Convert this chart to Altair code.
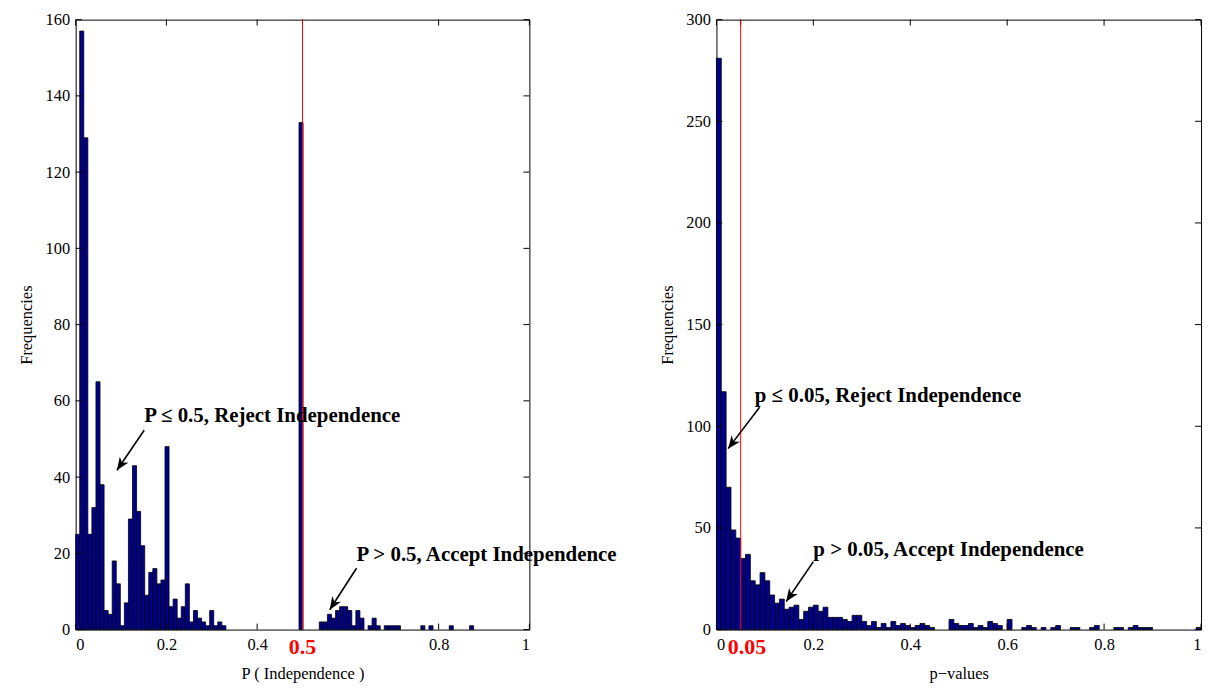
import math
import altair as alt
import pandas as pd

# ---------------- data ----------------
# Left histogram: P(Independence), 100 bins spanning [left_lo, left_hi]
left_lo, left_hi = 0.0, 0.895
left_counts = [25, 157, 129, 25, 32, 65, 38, 5, 4, 18, 12, 1, 7, 29, 43, 31, 22, 9, 15, 16,
               12, 13, 48, 6, 8, 3, 6, 12, 2, 5, 3, 2, 1, 5, 1, 2, 1,
               0, 0, 0, 0, 0, 0, 0, 0, 0, 0, 0, 0, 0, 0, 0, 0, 0, 0,
               133, 0, 0, 0, 0,
               2, 2, 4, 3, 5, 6, 6, 5, 1, 5, 3, 0, 1, 3, 1, 0, 1, 1, 1, 1,
               0, 0, 0, 0, 0, 1, 0, 1, 0, 0, 0, 0, 1, 0, 0, 0, 0, 1, 0, 0]

# Right histogram: p-values, 100 bins spanning [right_lo, right_hi]
right_lo, right_hi = 0.0, 1.0
right_counts = [281, 117, 70, 49, 45, 35, 37, 24, 22, 28, 24, 17, 13, 15, 10, 11, 12, 5, 9, 11, 12,
                9, 11, 6, 6, 6, 5, 4, 7, 7, 4, 2, 4, 1, 3, 1, 4, 2, 3, 2, 1, 2, 3, 2, 1,
                0, 0, 0,
                5, 3, 2, 2, 3, 1, 2, 1, 4, 3, 2, 0, 5,
                0, 0, 1, 2, 1, 0, 1, 0, 1, 2, 0, 0, 1, 1, 0, 0, 1, 2, 0, 0, 0, 1, 1, 0, 1, 2, 1, 1, 1,
                0, 0, 0, 0, 0, 0, 0, 0, 0, 1]

left_xlabels = [0, 0.2, 0.4, 0.8, 1]
left_xticks = [0, 0.2, 0.4, 0.5, 0.8, 1]
left_yticks = [0, 20, 40, 60, 80, 100, 120, 140, 160]
right_xlabels = [0, 0.2, 0.4, 0.6, 0.8, 1]
right_xticks = [0, 0.05, 0.2, 0.4, 0.6, 0.8, 1]
right_yticks = [0, 50, 100, 150, 200, 250, 300]

# threshold line position, red tick label and where that label is centred
left_threshold, left_threshold_text, left_threshold_label_x = 0.5, "0.5", 0.5
right_threshold, right_threshold_text, right_threshold_label_x = 0.05, "0.05", 0.063

# annotations: text anchor, arrow tail, arrow head (data units)
left_notes = [
    {"text": "P \u2264 0.5, Reject Independence", "tx": 0.151, "ty": 56.0,
     "ax": 0.151, "ay": 52.3, "hx": 0.091, "hy": 41.8},
    {"text": "P > 0.5, Accept Independence", "tx": 0.619, "ty": 19.6,
     "ax": 0.619, "ay": 16.1, "hx": 0.560, "hy": 5.2},
]
right_notes = [
    {"text": "p \u2264 0.05, Reject Independence", "tx": 0.079, "ty": 115.0,
     "ax": 0.089, "ay": 109.3, "hx": 0.024, "hy": 89.0},
    {"text": "p > 0.05, Accept Independence", "tx": 0.200, "ty": 39.2,
     "ax": 0.200, "ay": 33.4, "hx": 0.144, "hy": 13.8},
]

# ---------------- style ----------------
FONT = "Liberation Serif"
NAVY = "#00008C"
H = 613
W_LEFT, W_RIGHT = 456, 487
TICK = 6
ARROW = "M0,0L-0.7,1.7L0,1.2L0.7,1.7Z"


def panel(counts, lo, hi, ymax, width, xlabels, xticks, yticks, xtitle,
          thr, thr_text, thr_label_x, notes):
    n = len(counts)
    step = (hi - lo) / n
    df = pd.DataFrame({
        "start": [lo + i * step for i in range(n)],
        "end": [lo + (i + 1) * step for i in range(n)],
        "count": counts,
    })
    df = df[df["count"] > 0].copy()
    df["base"] = 0

    xs = alt.Scale(domain=[0, 1], nice=False, zero=False)
    ys = alt.Scale(domain=[0, ymax], nice=False, zero=True)
    xaxis = alt.Axis(values=xlabels, title=xtitle, labelExpr="'' + datum.value",
                     labelPadding=7, minExtent=24, maxExtent=24, titlePadding=12,
                     grid=False, domain=False, ticks=False)
    yaxis = alt.Axis(values=yticks, title="Frequencies",
                     labelPadding=6, minExtent=31, maxExtent=31, titlePadding=10,
                     grid=False, domain=False, ticks=False)

    def X(f):
        return alt.X(f, scale=xs, axis=xaxis)

    def Y(f):
        return alt.Y(f, scale=ys, axis=yaxis)

    bars = alt.Chart(df).mark_rect(fill=NAVY, stroke="black", strokeWidth=0.8).encode(
        x=X("start:Q"), x2="end:Q", y=Y("count:Q"), y2="base:Q")

    xt = pd.DataFrame({"v": xticks})
    yt = pd.DataFrame({"v": yticks})
    t_bottom = alt.Chart(xt).mark_rule(color="black", strokeWidth=1).encode(
        x=X("v:Q"), y=alt.value(H), y2=alt.value(H - TICK))
    t_top = alt.Chart(xt).mark_rule(color="black", strokeWidth=1).encode(
        x=X("v:Q"), y=alt.value(0), y2=alt.value(TICK))
    t_left = alt.Chart(yt).mark_rule(color="black", strokeWidth=1).encode(
        y=Y("v:Q"), x=alt.value(0), x2=alt.value(TICK))
    t_right = alt.Chart(yt).mark_rule(color="black", strokeWidth=1).encode(
        y=Y("v:Q"), x=alt.value(width - TICK), x2=alt.value(width))

    thr_df = pd.DataFrame({"v": [thr], "lx": [thr_label_x], "label": [thr_text]})
    red_rule = alt.Chart(thr_df).mark_rule(color="red", strokeWidth=1).encode(
        x=X("v:Q"), y=alt.value(0), y2=alt.value(H))
    red_text = alt.Chart(thr_df).mark_text(
        color="red", font=FONT, fontWeight="bold", fontSize=22, baseline="middle", align="center"
    ).encode(x=X("lx:Q"), y=alt.value(H + 18), text="label:N")

    nd = pd.DataFrame(notes)
    texts = alt.Chart(nd).mark_text(
        font=FONT, fontWeight="bold", fontSize=21, align="left", baseline="middle", color="black"
    ).encode(x=X("tx:Q"), y=Y("ty:Q"), text="text:N")

    rows = []
    heads = []
    for i, nt in enumerate(notes):
        rows.append({"id": i, "o": 0, "x": nt["ax"], "y": nt["ay"]})
        rows.append({"id": i, "o": 1, "x": nt["hx"], "y": nt["hy"]})
        dxp = (nt["hx"] - nt["ax"]) * width
        dyp = -(nt["hy"] - nt["ay"]) * H / ymax
        ang = math.degrees(math.atan2(dxp, -dyp)) % 360
        heads.append({"x": nt["hx"], "y": nt["hy"], "ang": ang})
    shafts = alt.Chart(pd.DataFrame(rows)).mark_line(color="black", strokeWidth=1.6).encode(
        x=X("x:Q"), y=Y("y:Q"), detail="id:N", order="o:Q")
    arrowheads = alt.Chart(pd.DataFrame(heads)).mark_point(
        shape=ARROW, filled=True, color="black", opacity=1, size=230, strokeWidth=0
    ).encode(x=X("x:Q"), y=Y("y:Q"), angle=alt.Angle("ang:Q", scale=None))

    return alt.layer(bars, t_bottom, t_top, t_left, t_right, red_rule, red_text,
                     shafts, arrowheads, texts).properties(width=width, height=H)


left = panel(left_counts, left_lo, left_hi, 160, W_LEFT, left_xlabels, left_xticks,
             left_yticks, "P ( Independence )", left_threshold, left_threshold_text,
             left_threshold_label_x, left_notes)
right = panel(right_counts, right_lo, right_hi, 300, W_RIGHT, right_xlabels, right_xticks,
              right_yticks, "p\u2212values", right_threshold, right_threshold_text,
              right_threshold_label_x, right_notes)

chart = alt.hconcat(left, right, spacing=188, bounds="flush").properties(
    padding={"left": 10, "top": 1, "right": 0, "bottom": 0},
    background="white",
).configure_view(
    stroke="black", strokeWidth=1
).configure_axis(
    grid=False, domain=False, ticks=False, tickSize=0,
    labelFont=FONT, titleFont=FONT, labelFontSize=16.5, titleFontSize=16.5,
    titleFontWeight="normal", labelColor="black", titleColor="black",
)

chart.save("out.html", embed_options={"renderer": "svg", "actions": False})
